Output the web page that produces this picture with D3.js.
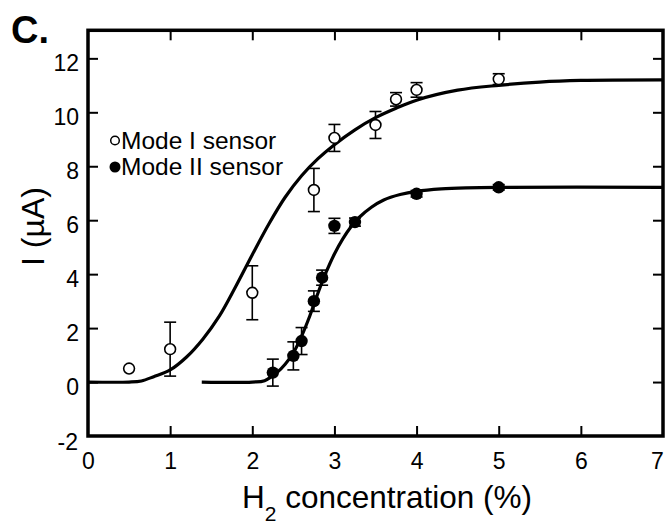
<!DOCTYPE html>
<html>
<head>
<meta charset="utf-8">
<script src="https://cdn.jsdelivr.net/npm/d3@7"></script>
<style>
  html, body { margin: 0; padding: 0; background: #fff; }
  svg { display: block; }
  text { font-family: "Liberation Sans", Arial, Helvetica, sans-serif; fill: #000; }
</style>
</head>
<body>
<svg id="chart" width="666" height="524"></svg>
<script>
// ---- data ----
const xTicks = [0, 1, 2, 3, 4, 5, 6, 7];
const yTicks = [-2, 0, 2, 4, 6, 8, 10, 12];

// Mode I sensor (open circles): x, y, error
const mode1X   = [0.5, 1.0, 2.0, 2.75, 3.0, 3.5, 3.75, 4.0, 5.0];
const mode1Y   = [0.5, 1.22, 3.31, 7.12, 9.05, 9.53, 10.48, 10.83, 11.23];
const mode1Err = [0, 1.0, 1.0, 0.8, 0.5, 0.5, 0.25, 0.27, 0.2];

// Mode II sensor (filled circles)
const mode2X   = [2.25, 2.5, 2.6, 2.75, 2.85, 3.0, 3.25, 4.0, 5.0];
const mode2Y   = [0.35, 0.97, 1.52, 3.0, 3.87, 5.79, 5.93, 6.98, 7.22];
const mode2Err = [0.5, 0.52, 0.5, 0.38, 0.28, 0.28, 0.15, 0.12, 0.1];

// Fitted curves
const fit1X = [0, 0.5, 0.65, 0.8, 1.0, 1.2, 1.4, 1.6, 1.8, 2.0, 2.2, 2.4, 2.6, 2.8, 3.0, 3.25, 3.5, 3.75, 4.0, 4.5, 5.0, 5.5, 6.0, 7.0];
const fit1Y = [0, 0, 0.04, 0.2, 0.45, 0.93, 1.6, 2.45, 3.55, 4.72, 5.85, 6.85, 7.65, 8.28, 8.8, 9.35, 9.8, 10.15, 10.45, 10.82, 11.0, 11.12, 11.18, 11.2];
const fit2X = [1.385, 2.0, 2.15, 2.3, 2.4, 2.5, 2.6, 2.7, 2.8, 2.9, 3.0, 3.1, 3.2, 3.3, 3.45, 3.6, 3.8, 4.0, 4.3, 4.6, 5.0, 7.0];
const fit2Y = [0, 0, 0.05, 0.35, 0.66, 1.08, 1.7, 2.45, 3.3, 4.08, 4.75, 5.3, 5.75, 6.1, 6.48, 6.75, 6.95, 7.07, 7.16, 7.2, 7.22, 7.22];

const legendLabels = ["Mode I sensor", "Mode II sensor"];
const xLabelMain = "H";
const xLabelSub = "2";
const xLabelRest = " concentration (%)";
const yLabel = "I (\u00B5A)";
const panelLabel = "C.";

// ---- layout ----
const svg = d3.select("#chart");
const L = 88, R = 663, T = 30.3, B = 436;
const x = d3.scaleLinear().domain([0, 7]).range([L, R]);
const y = d3.scaleLinear().domain([-2, 13.04]).range([B, T]);

const zip = (xs, ys) => xs.map((v, i) => [v, ys[i]]);
const fmt = d => String(d);
const FONT = "'Liberation Sans', Arial, sans-serif";

// axes (ticks pointing inward)
const fs = 23;
const gx = svg.append("g").attr("transform", `translate(0,${B})`)
  .call(d3.axisBottom(x).tickValues(xTicks).tickSize(-10).tickPadding(16.5).tickFormat(fmt));
gx.select(".domain").remove();
gx.selectAll(".tick line").attr("stroke", "#000").attr("stroke-width", 2);
gx.selectAll(".tick text").attr("font-size", fs).attr("fill", "#000").style("font-family", FONT);
gx.selectAll(".tick").filter(d => d === 0 || d === 7).select("line").remove();
gx.selectAll(".tick").filter(d => d === 7).select("text").attr("x", -6);

const gxTop = svg.append("g").attr("transform", `translate(0,${T})`)
  .call(d3.axisTop(x).tickValues(xTicks.filter(d => d > 0 && d < 7)).tickSize(-10).tickFormat(""));
gxTop.select(".domain").remove();
gxTop.selectAll(".tick line").attr("stroke", "#000").attr("stroke-width", 2);

const gy = svg.append("g").attr("transform", `translate(${L},0)`)
  .call(d3.axisLeft(y).tickValues(yTicks).tickSize(-10).tickPadding(9).tickFormat(fmt));
gy.select(".domain").remove();
gy.selectAll(".tick line").attr("stroke", "#000").attr("stroke-width", 2);
gy.selectAll(".tick text").attr("font-size", fs).attr("fill", "#000").attr("dy", "0.54em")
  .style("font-family", FONT);
gy.selectAll(".tick").filter(d => d === -2).select("line").remove();
gy.selectAll(".tick").filter(d => d === -2).select("text").attr("dy", "0.6em").attr("x", -10);

const gyR = svg.append("g").attr("transform", `translate(${R},0)`)
  .call(d3.axisRight(y).tickValues(yTicks.filter(d => d > -2)).tickSize(-10).tickFormat(""));
gyR.select(".domain").remove();
gyR.selectAll(".tick line").attr("stroke", "#000").attr("stroke-width", 2);

// frame
svg.append("rect").attr("x", L).attr("y", T).attr("width", R - L).attr("height", B - T)
  .attr("fill", "none").attr("stroke", "#000").attr("stroke-width", 3.5);

// fitted curves
const line = d3.line().x(d => x(d[0])).y(d => y(d[1])).curve(d3.curveCatmullRom.alpha(0.5));
svg.append("path").datum(zip(fit1X, fit1Y)).attr("d", line)
  .attr("fill", "none").attr("stroke", "#000").attr("stroke-width", 3.2);
svg.append("path").datum(zip(fit2X, fit2Y)).attr("d", line)
  .attr("fill", "none").attr("stroke", "#000").attr("stroke-width", 3.2);

// error bars
function errorBars(xs, ys, es) {
  const g = svg.append("g").attr("stroke", "#000").attr("stroke-width", 1.6);
  xs.forEach((xv, i) => {
    const e = es[i];
    if (!e) return;
    const cx = x(xv), y1 = y(ys[i] + e), y2 = y(ys[i] - e);
    g.append("line").attr("x1", cx).attr("x2", cx).attr("y1", y1).attr("y2", y2);
    g.append("line").attr("x1", cx - 6).attr("x2", cx + 6).attr("y1", y1).attr("y2", y1);
    g.append("line").attr("x1", cx - 6).attr("x2", cx + 6).attr("y1", y2).attr("y2", y2);
  });
}
errorBars(mode1X, mode1Y, mode1Err);
errorBars(mode2X, mode2Y, mode2Err);

// points
svg.append("g").selectAll("circle").data(zip(mode1X, mode1Y)).join("circle")
  .attr("cx", d => x(d[0])).attr("cy", d => y(d[1])).attr("r", 5.4)
  .attr("fill", "#fff").attr("stroke", "#000").attr("stroke-width", 1.6);
svg.append("g").selectAll("circle").data(zip(mode2X, mode2Y)).join("circle")
  .attr("cx", d => x(d[0])).attr("cy", d => y(d[1])).attr("r", 6.2)
  .attr("fill", "#000");

// legend
svg.append("circle").attr("cx", 115).attr("cy", 140.5).attr("r", 4.3)
  .attr("fill", "#fff").attr("stroke", "#000").attr("stroke-width", 1.5);
svg.append("circle").attr("cx", 115).attr("cy", 167).attr("r", 5.5).attr("fill", "#000");
svg.append("text").attr("x", 121).attr("y", 148.5).attr("font-size", 24.5).text(legendLabels[0]);
svg.append("text").attr("x", 121).attr("y", 175).attr("font-size", 24.5).text(legendLabels[1]);

// axis titles
const xt = svg.append("text").attr("x", 387).attr("y", 508).attr("text-anchor", "middle").attr("font-size", 31.5);
xt.append("tspan").text(xLabelMain);
xt.append("tspan").attr("font-size", 21).attr("dy", 13).text(xLabelSub);
xt.append("tspan").attr("dy", -13).text(xLabelRest);

svg.append("text").attr("transform", "translate(44,226.5) rotate(-90)")
  .attr("text-anchor", "middle").attr("font-size", 32).text(yLabel);

// panel label
svg.append("text").attr("x", 11).attr("y", 43).attr("font-size", 38).attr("font-weight", "bold").text(panelLabel);
</script>
</body>
</html>
